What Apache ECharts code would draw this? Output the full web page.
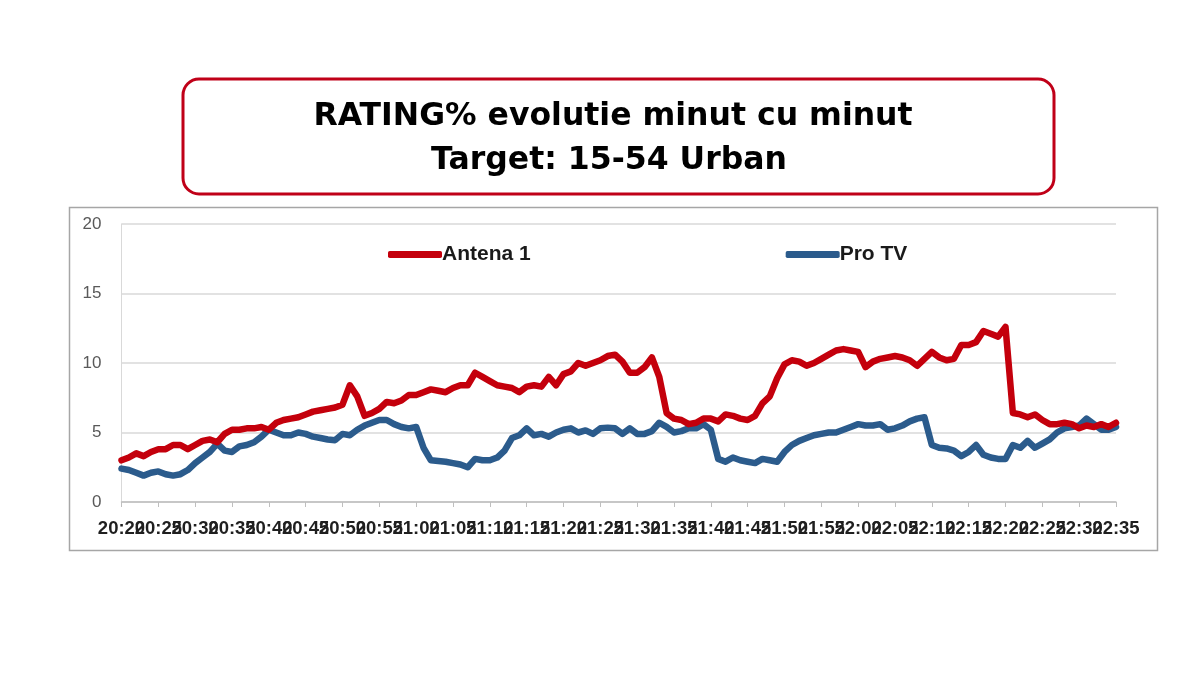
<!DOCTYPE html>
<html>
<head>
<meta charset="utf-8">
<script src="https://cdn.jsdelivr.net/npm/echarts@6/dist/echarts.min.js"></script>
<style>
  html, body { margin: 0; padding: 0; background: #fff; }
  #chart { width: 1200px; height: 675px; }
</style>
</head>
<body>
<div id="chart"></div>
<script>
// minute labels 20:20 .. 22:35
var minutes = [];
for (var i = 0; i < 136; i++) {
    var t = 20 * 60 + 20 + i;
    var h = Math.floor(t / 60), m = t % 60;
    minutes.push(h + ':' + (m < 10 ? '0' + m : m));
}

var seriesNames = ['Antena 1', 'Pro TV'];

// rating %, minute by minute
var antena1 = [
    3.0, 3.2, 3.5, 3.3, 3.6, 3.8, 3.8, 4.1, 4.1, 3.8,
    4.1, 4.4, 4.5, 4.3, 4.9, 5.2, 5.2, 5.3, 5.3, 5.4,
    5.2, 5.7, 5.9, 6.0, 6.1, 6.3, 6.5, 6.6, 6.7, 6.8,
    7.0, 8.4, 7.6, 6.2, 6.4, 6.7, 7.2, 7.1, 7.3, 7.7,
    7.7, 7.9, 8.1, 8.0, 7.9, 8.2, 8.4, 8.4, 9.3, 9.0,
    8.7, 8.4, 8.3, 8.2, 7.9, 8.3, 8.4, 8.3, 9.0, 8.4,
    9.2, 9.4, 10.0, 9.8, 10.0, 10.2, 10.5, 10.6, 10.1, 9.3,
    9.3, 9.7, 10.4, 9.0, 6.4, 6.0, 5.9, 5.6, 5.7, 6.0,
    6.0, 5.8, 6.3, 6.2, 6.0, 5.9, 6.2, 7.1, 7.6, 8.9,
    9.9, 10.2, 10.1, 9.8, 10.0, 10.3, 10.6, 10.9, 11.0, 10.9,
    10.8, 9.7, 10.1, 10.3, 10.4, 10.5, 10.4, 10.2, 9.8, 10.3,
    10.8, 10.4, 10.2, 10.3, 11.3, 11.3, 11.5, 12.3, 12.1, 11.9,
    12.6, 6.4, 6.3, 6.1, 6.3, 5.9, 5.6, 5.6, 5.7, 5.6,
    5.3, 5.5, 5.4, 5.6, 5.4, 5.7
];

var proTv = [
    2.4, 2.3, 2.1, 1.9, 2.1, 2.2, 2.0, 1.9, 2.0, 2.3,
    2.8, 3.2, 3.6, 4.2, 3.7, 3.6, 4.0, 4.1, 4.3, 4.7,
    5.2, 5.0, 4.8, 4.8, 5.0, 4.9, 4.7, 4.6, 4.5, 4.45,
    4.9, 4.8, 5.2, 5.5, 5.7, 5.9, 5.9, 5.6, 5.4, 5.3,
    5.4, 3.9, 3.0, 2.95, 2.9, 2.8, 2.7, 2.5, 3.1, 3.0,
    3.0, 3.2, 3.7, 4.6, 4.8, 5.3, 4.8, 4.9, 4.7, 5.0,
    5.2, 5.3, 5.0, 5.15, 4.9, 5.3, 5.35, 5.3, 4.9, 5.3,
    4.9, 4.9, 5.1, 5.7, 5.4, 5.0, 5.1, 5.3, 5.3, 5.6,
    5.2, 3.1, 2.9, 3.2, 3.0, 2.9, 2.8, 3.1, 3.0, 2.9,
    3.6, 4.1, 4.4, 4.6, 4.8, 4.9, 5.0, 5.0, 5.2, 5.4,
    5.6, 5.5, 5.5, 5.6, 5.2, 5.3, 5.5, 5.8, 6.0, 6.1,
    4.1, 3.9, 3.85, 3.7, 3.3, 3.6, 4.1, 3.4, 3.2, 3.1,
    3.1, 4.1, 3.9, 4.4, 3.9, 4.2, 4.5, 5.0, 5.3, 5.4,
    5.5, 6.0, 5.6, 5.2, 5.2, 5.4
];

var colors = ['#c4000c', '#2b5b8c'];

var myChart = echarts.init(document.getElementById('chart'));
var option = {
    animation: false,
    color: colors,
    graphic: [
        // outer chart frame
        {
            type: 'rect',
            shape: {x: 69.5, y: 207.5, width: 1088, height: 343},
            style: {fill: '#fff', stroke: '#a6a6a6', lineWidth: 1.5},
            z: -10
        },
        // title box
        {
            type: 'rect',
            shape: {x: 183, y: 79, width: 871, height: 115, r: 16},
            style: {fill: '#fff', stroke: '#c00018', lineWidth: 3}
        },
        {
            type: 'text',
            style: {
                x: 613, y: 117,
                text: 'RATING% evolutie minut cu minut',
                textAlign: 'center', textVerticalAlign: 'middle',
                font: 'bold 31.5px "DejaVu Sans"', fill: '#000'
            }
        },
        {
            type: 'text',
            style: {
                x: 609, y: 161,
                text: 'Target: 15-54 Urban',
                textAlign: 'center', textVerticalAlign: 'middle',
                font: 'bold 31.5px "DejaVu Sans"', fill: '#000'
            }
        }
    ],
    legend: {
        data: seriesNames,
        left: 383,
        top: 239,
        itemWidth: 54,
        itemHeight: 7,
        itemGap: 255,
        icon: 'roundRect',
        textStyle: {
            fontFamily: 'Liberation Sans',
            fontSize: 21,
            fontWeight: 'bold',
            color: '#1a1a1a',
            padding: [0, 0, 0, -5]
        }
    },
    grid: {
        left: 121.5,
        right: 84,
        top: 224,
        bottom: 173,
        containLabel: false
    },
    xAxis: {
        type: 'category',
        data: minutes,
        boundaryGap: false,
        axisLine: {lineStyle: {color: '#bfbfbf', width: 1.5}},
        axisTick: {interval: 4, length: 5, lineStyle: {color: '#bfbfbf'}},
        axisLabel: {
            // every label is laid out, only each fifth minute gets text
            interval: 0,
            formatter: function (value, index) {
                return index % 5 === 0 ? value : '';
            },
            margin: 17,
            fontFamily: 'Liberation Sans',
            fontSize: 18.5,
            fontWeight: 'bold',
            color: '#1f1f1f',
            hideOverlap: false
        }
    },
    yAxis: {
        type: 'value',
        min: 0,
        max: 20,
        interval: 5,
        axisLine: {show: true, lineStyle: {color: '#d9d9d9'}},
        axisLabel: {
            margin: 20,
            fontFamily: 'Liberation Sans',
            fontSize: 17,
            color: '#595959'
        },
        splitLine: {lineStyle: {color: '#d9d9d9', width: 1.5}}
    },
    series: [
        {
            name: seriesNames[0],
            type: 'line',
            data: antena1,
            showSymbol: false,
            lineStyle: {width: 6.5, cap: 'round', join: 'round'},
            z: 3
        },
        {
            name: seriesNames[1],
            type: 'line',
            data: proTv,
            showSymbol: false,
            lineStyle: {width: 6.5, cap: 'round', join: 'round'},
            z: 2
        }
    ]
};

myChart.setOption(option);
</script>
</body>
</html>
